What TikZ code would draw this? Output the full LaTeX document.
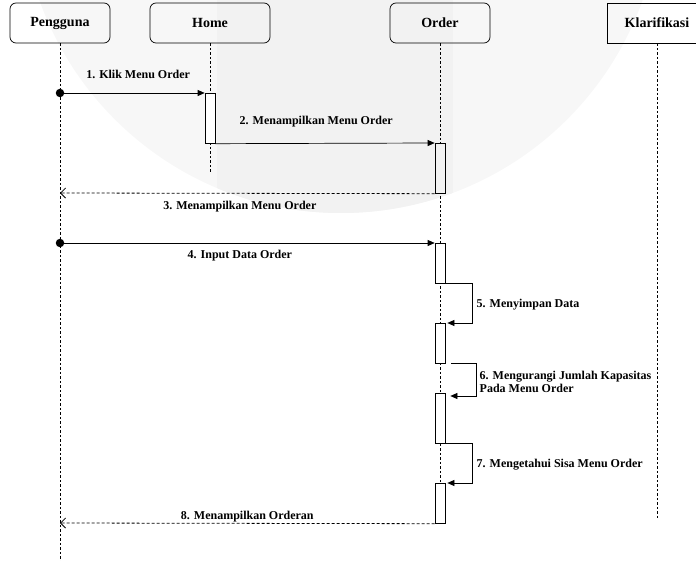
\documentclass[tikz,border=0pt]{standalone}
\usepackage{fontspec}
\setmainfont{Liberation Serif}
\usepackage{tikz}
\usetikzlibrary{positioning}
\usetikzlibrary{arrows.meta}
\tikzset{obj/.style={draw, rounded corners=6pt, minimum width=100pt, minimum height=40pt, line width=0.7pt, font=\fontsize{14}{16}\selectfont\bfseries}}
\tikzset{life/.style={line width=0.7pt, dash pattern=on 2.5pt off 2pt}}
\tikzset{act/.style={draw, fill=white, minimum width=10pt, inner sep=0pt, anchor=north, line width=0.7pt}}
\tikzset{msg/.style={line width=0.7pt, -{Triangle[length=7pt,width=6pt]}}}
\tikzset{ret/.style={line width=0.8pt, dash pattern=on 3pt off 2pt, -{Straight Barb[length=5pt,width=10pt]}}}
\tikzset{lbl/.style={font=\fontsize{12}{13}\selectfont\bfseries, inner sep=0pt}}
\tikzset{dot/.style={circle, fill, inner sep=0pt, minimum size=8.5pt}}

\begin{document}
\begin{tikzpicture}[x=1pt,y=-1pt]
\useasboundingbox (0,0) rectangle (696,561);
% watermark
\fill[gray!6] (341,-107) circle (320pt);
\begin{scope}
\clip (341,-107) circle (320pt);
\fill[gray!10] (217,-10) rectangle (453,240);
\end{scope}

\node[obj] (pengguna) at (60,23) {Pengguna};
\node[obj, minimum width=120pt] (home) at (210,23) {Home};
\node[obj] (order) at (440,23) {Order};
\node[obj, rounded corners=0pt] (klarifikasi) at (657,23) {Klarifikasi};

\coordinate (pengguna-end) at (60,561);
\coordinate (home-end) at (210,172);
\coordinate (order-end) at (440,523);
\coordinate (klarifikasi-end) at (657,520);
\draw[life] (pengguna.south) -- (pengguna-end);
\draw[life] (home.south) -- (home-end);
\draw[life] (order.south) -- (order-end);
\draw[life] (klarifikasi.south) -- (klarifikasi-end);

\node[act, minimum height=50pt] (home-a) at (210,93) {};
\node[act, minimum height=50pt, fill=gray!10] (order-a1) at (440,143) {};
\node[act, minimum height=40pt] (order-a2) at (440,243) {};
\node[act, minimum height=40pt] (order-a3) at (440,323) {};
\node[act, minimum height=50pt] (order-a4) at (440,393) {};
\node[act, minimum height=40pt] (order-a5) at (440,483) {};

\node[dot] (dot1) at (60,93) {};
\node[dot] (dot4) at (60,243) {};
\coordinate (back3) at (60,193);
\coordinate (back8) at (60,523);

\draw[msg] (dot1.center) -- node[lbl, pos=0.54, anchor=base, yshift=14pt] {1. Klik Menu Order} (home-a.north west);
\draw[msg] (home-a.south east) -- node[lbl, pos=0.46, anchor=base, yshift=19pt] {2. Menampilkan Menu Order} (order-a1.north west);
\draw[ret] (order-a1.south west) -- node[lbl, pos=0.52, anchor=base, yshift=-16pt] {3. Menampilkan Menu Order} (back3);
\draw[msg] (dot4.center) -- node[lbl, pos=0.48, anchor=base, yshift=-16pt] {4. Input Data Order} (order-a2.north west);
\draw[msg] (order-a2.south east) -- ++(27,0) |- node[lbl, pos=0.25, anchor=west, xshift=4pt, yshift=-1.5pt] {5. Menyimpan Data} ([xshift=2pt]order-a3.north east);
\draw[msg] ([xshift=6pt]order-a3.south east) -- ++(25,0) |- node[lbl, pos=0.25, anchor=west, align=left, xshift=3pt, yshift=-2pt] {6. Mengurangi Jumlah Kapasitas\\Pada Menu Order} ([xshift=5pt,yshift=-3pt]order-a4.north east);
\draw[msg] (order-a4.south east) -- ++(27,0) |- node[lbl, pos=0.25, anchor=west, xshift=4pt, yshift=-1.5pt] {7. Mengetahui Sisa Menu Order} ([xshift=2pt]order-a5.north east);
\draw[ret] (order-a5.south west) -- node[lbl, pos=0.5, anchor=base, yshift=4pt] {8. Menampilkan Orderan} (back8);
\end{tikzpicture}
\end{document}
